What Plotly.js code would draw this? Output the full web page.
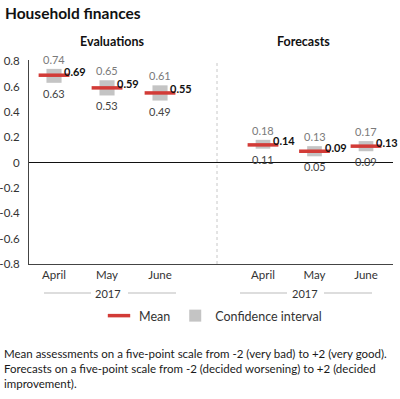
<!DOCTYPE html>
<html><head><meta charset="utf-8">
<script src="https://cdn.plot.ly/plotly-3.0.1.min.js"></script>
<style>html,body{margin:0;padding:0;background:#fff}</style>
</head><body><div id="chart" style="width:400px;height:399px"></div>
<script>
// ---- data ----
const months = ["April", "May", "June"];
const evalMean = [0.69, 0.59, 0.55];
const evalLow = [0.63, 0.53, 0.49];
const evalHigh = [0.74, 0.65, 0.61];
const fcMean = [0.14, 0.09, 0.13];
const fcLow = [0.11, 0.05, 0.09];
const fcHigh = [0.18, 0.13, 0.17];
const yTicks = [0.8, 0.6, 0.4, 0.2, 0, -0.2, -0.4, -0.6, -0.8];
const yTickText = ["0.8", "0.6", "0.4", "0.2", "0", "-0.2", "-0.4", "-0.6", "-0.8"];
const panelTitles = ["Evaluations", "Forecasts"];
const yearLabel = "2017";
const chartTitle = "Household finances";
const footnote = "Mean assessments on a five-point scale from -2 (very bad) to +2 (very good).<br>Forecasts on a five-point scale from -2 (decided worsening) to +2 (decided<br>improvement).";

// ---- layout helpers (pixel -> paper) ----
const W = 400, H = 399, L = 29, R = 393, T = 60, B = 264;
const px = x => (x - L) / (R - L);
const py = y => (B - y) / (B - T);
const FONT = 'Lato, "Noto Sans", sans-serif';
const RED = '#d23b37', GREY = '#c4c4c4';
const split = px(217);

const panels = [
  {xa: 'x', mean: evalMean, low: evalLow, high: evalHigh},
  {xa: 'x2', mean: fcMean, low: fcLow, high: fcHigh}
];

const data = [];
const annotations = [];
panels.forEach((p, i) => {
  data.push({
    type: 'scatter', mode: 'markers', xaxis: p.xa, yaxis: 'y',
    x: months, y: p.mean, name: 'Mean', legendgroup: 'mean', showlegend: i === 0,
    marker: {symbol: 'line-ew', size: 22, color: RED, line: {width: 3.5, color: RED}},
    hoverinfo: 'skip'
  });
});
panels.forEach((p, i) => {
  data.push({
    type: 'bar', xaxis: p.xa, yaxis: 'y',
    x: months, y: p.high.map((h, k) => h - p.low[k]), base: p.low,
    width: 0.285, marker: {color: GREY}, name: 'Confidence interval',
    legendgroup: 'ci', showlegend: i === 0, hoverinfo: 'skip'
  });
  months.forEach((m, k) => {
    annotations.push({xref: p.xa, yref: 'y', x: m, y: p.high[k], text: p.high[k].toFixed(2),
      showarrow: false, xanchor: 'center', yanchor: 'bottom', yshift: 1,
      font: {family: FONT, size: 11, color: '#7a7a7a'}});
    annotations.push({xref: p.xa, yref: 'y', x: m, y: p.low[k], text: p.low[k].toFixed(2),
      showarrow: false, xanchor: 'center', yanchor: 'top', yshift: -2,
      font: {family: FONT, size: 11, color: '#444'}});
    annotations.push({xref: p.xa, yref: 'y', x: m, y: p.mean[k], text: '<b>' + p.mean[k].toFixed(2) + '</b>',
      showarrow: false, xanchor: 'left', yanchor: 'middle', xshift: 8, yshift: 4,
      font: {family: FONT, size: 11, color: '#111'}});
  });
});

// panel titles
[[112, panelTitles[0]], [303, panelTitles[1]]].forEach(([x, t]) => {
  annotations.push({xref: 'paper', yref: 'paper', x: px(x), y: py(41), text: '<b>' + t + '</b>',
    showarrow: false, xanchor: 'center', yanchor: 'middle',
    font: {family: FONT, size: 12.5, color: '#111'}});
});
// year labels with side lines
const shapes = [];
[[108, 44, 91, 128, 176], [305, 240, 287, 324, 372]].forEach(([c, a1, a2, b1, b2]) => {
  annotations.push({xref: 'paper', yref: 'paper', x: px(c), y: py(293), text: yearLabel,
    showarrow: false, xanchor: 'center', yanchor: 'middle',
    font: {family: FONT, size: 11, color: '#333'}});
  [[a1, a2], [b1, b2]].forEach(([s, e]) => shapes.push({type: 'line', xref: 'paper', yref: 'paper',
    x0: px(s), x1: px(e), y0: py(293), y1: py(293), line: {color: '#bbb', width: 1}}));
});
// separator
shapes.push({type: 'line', xref: 'paper', yref: 'paper', x0: split, x1: split, y0: 0, y1: 1,
  line: {color: '#c8c8c8', width: 1, dash: 'dot'}});
// footnote
annotations.push({xref: 'paper', yref: 'paper', x: px(2), y: py(345), text: footnote,
  showarrow: false, xanchor: 'left', yanchor: 'top', align: 'left',
  font: {family: FONT, size: 11.5, color: '#1a1a1a'}});

const xCommon = {type: 'category', showgrid: false, zeroline: false, showline: true,
  linecolor: '#444', linewidth: 1, ticks: '', tickfont: {family: FONT, size: 11.5, color: '#333'},
  fixedrange: true};

const layout = {
  width: W, height: H,
  margin: {l: L, r: W - R, t: T, b: H - B, pad: 0},
  paper_bgcolor: '#fff', plot_bgcolor: '#fff',
  font: {family: FONT, color: '#333'},
  title: {text: '<b>' + chartTitle + '</b>', xref: 'container', yref: 'container',
    x: 5 / W, xanchor: 'left', y: 1 - 13.5 / H, yanchor: 'middle',
    font: {family: FONT, size: 15.5, color: '#111'}},
  xaxis: Object.assign({}, xCommon, {domain: [0, split], range: [-0.472, 3.075], anchor: 'y'}),
  xaxis2: Object.assign({}, xCommon, {domain: [split, 1], range: [-0.893, 2.524], anchor: 'y'}),
  yaxis: {range: [-0.8, 0.81], tickvals: yTicks, ticktext: yTickText, showgrid: false,
    zeroline: true, zerolinecolor: '#111', zerolinewidth: 1, showline: true, linecolor: '#444',
    ticks: '', ticklabelstandoff: 6, tickfont: {family: FONT, size: 11.5, color: '#333'}, fixedrange: true},
  barmode: 'overlay',
  showlegend: true,
  legend: {orientation: 'h', x: px(99), xanchor: 'left', y: py(316), yanchor: 'middle',
    font: {family: FONT, size: 12.5, color: '#333'}, bgcolor: 'rgba(0,0,0,0)', traceorder: 'normal'},
  annotations: annotations, shapes: shapes
};

Plotly.newPlot('chart', data, layout, {displayModeBar: false, staticPlot: true});
</script>
</body></html>
